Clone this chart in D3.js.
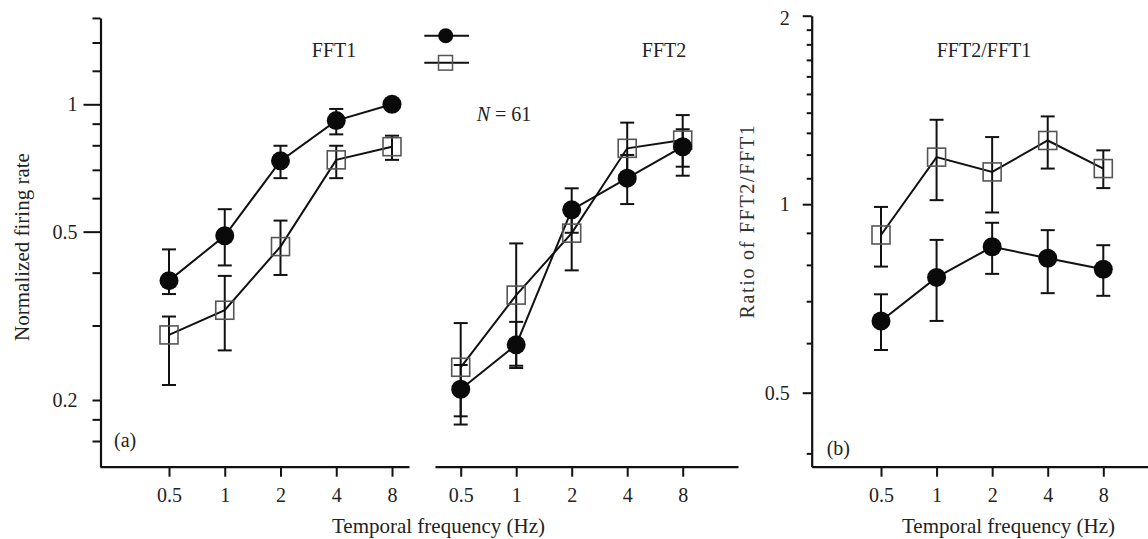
<!DOCTYPE html>
<html>
<head>
<meta charset="utf-8">
<script src="https://cdn.jsdelivr.net/npm/d3@7"></script>
<style>
body { margin: 0; background: #fff; }
svg { display: block; font-family: "Liberation Serif", "Times New Roman", serif; }
</style>
</head>
<body>
<div id="chart"></div>
<script>
// temporal frequencies (Hz)
const freqs = [0.5, 1, 2, 4, 8];
const xTickLabels = ['0.5', '1', '2', '4', '8'];

// (a) FFT1 normalized firing rate
const fft1Circle   = [0.383, 0.489, 0.735, 0.915, 1.0];
const fft1CircleLo = [0.356, 0.416, 0.669, 0.849, 0.98];
const fft1CircleHi = [0.454, 0.565, 0.798, 0.975, 1.02];
const fft1Square   = [0.285, 0.326, 0.461, 0.739, 0.794];
const fft1SquareLo = [0.217, 0.262, 0.395, 0.669, 0.739];
const fft1SquareHi = [0.315, 0.393, 0.531, 0.798, 0.843];

// (a) FFT2 normalized firing rate
const fft2Circle   = [0.212, 0.270, 0.563, 0.669, 0.794];
const fft2CircleLo = [0.183, 0.241, 0.497, 0.581, 0.678];
const fft2CircleHi = [0.242, 0.306, 0.633, 0.759, 0.873];
const fft2Square   = [0.239, 0.354, 0.496, 0.787, 0.823];
const fft2SquareLo = [0.175, 0.238, 0.405, 0.681, 0.712];
const fft2SquareHi = [0.304, 0.469, 0.563, 0.905, 0.943];

// (b) ratio FFT2/FFT1
const ratioCircle   = [0.651, 0.764, 0.855, 0.820, 0.787];
const ratioCircleLo = [0.585, 0.651, 0.774, 0.721, 0.714];
const ratioCircleHi = [0.718, 0.877, 0.934, 0.909, 0.860];
const ratioSquare   = [0.893, 1.189, 1.126, 1.264, 1.140];
const ratioSquareLo = [0.795, 1.015, 0.970, 1.140, 1.061];
const ratioSquareHi = [0.990, 1.364, 1.280, 1.381, 1.219];

// y axis ticks
const yTicksA = [0.16, 0.18, 0.2, 0.3, 0.4, 0.5, 0.6, 0.7, 0.8, 0.9, 1, 1.2, 1.4, 1.6];
const yLabelsA = [0.2, 0.5, 1];
const yMajorA = [0.5, 1];
const yTicksB = [0.4, 0.5, 0.6, 0.7, 0.8, 0.9, 1, 1.1, 1.2, 1.3, 1.4, 1.5, 1.6, 1.7, 1.8, 1.9, 2];
const yLabelsB = [0.5, 1, 2];

const svg = d3.select('#chart').append('svg')
    .attr('width', 1148)
    .attr('height', 539);

svg.append('rect').attr('width', 1148).attr('height', 539).attr('fill', '#fff');

const axisY0 = 466.7;

// x scale: log2, placed by where 0.5 and 8 sit, then stretched to the axis line ends
function makeX(p0, p8, left, right) {
    const s = d3.scaleLog().base(2).domain([0.5, 8]).range([p0, p8]);
    return s.copy().domain([s.invert(left), s.invert(right)]).range([left, right]);
}

const x1 = makeX(169, 392, 100, 409);
const x2 = makeX(460.7, 682.7, 435, 738);
const x3 = makeX(881, 1103.3, 811.7, 1147.5);

const yA0 = d3.scaleLog().domain([0.2, 1]).range([400, 104.3]);
const yA = yA0.copy().domain([yA0.invert(axisY0), 1.6]).range([axisY0, yA0(1.6)]);
const yB0 = d3.scaleLog().domain([0.5, 2]).range([392.7, 15.7]);
const yB = yB0.copy().domain([yB0.invert(axisY0), 2]).range([axisY0, 15.7]);

function styleAxis(g) {
    g.selectAll('path.domain').attr('stroke', '#111').attr('stroke-width', 2.2);
    g.selectAll('.tick line').attr('stroke', '#111').attr('stroke-width', 2);
    g.selectAll('.tick text')
        .attr('fill', '#222')
        .style('font-size', '20px')
        .style('font-family', '"Liberation Serif", "Times New Roman", serif');
}

// x axes
[x1, x2, x3].forEach(x => {
    const g = svg.append('g')
        .attr('transform', `translate(0,${axisY0})`)
        .call(d3.axisBottom(x)
            .tickValues(freqs)
            .tickFormat((d, i) => xTickLabels[i])
            .tickSize(10)
            .tickSizeOuter(0)
            .tickPadding(11));
    styleAxis(g);
});

// y axis (a)
const gyA = svg.append('g')
    .attr('transform', 'translate(100.5,0)')
    .call(d3.axisLeft(yA)
        .tickValues(yTicksA)
        .tickFormat(d => yLabelsA.includes(d) ? d3.format('')(d) : '')
        .tickSize(8)
        .tickSizeOuter(0)
        .tickPadding(15));
styleAxis(gyA);
gyA.selectAll('.tick line').attr('x2', d => yMajorA.includes(d) ? -17 : -8);

// y axis (b)
const gyB = svg.append('g')
    .attr('transform', 'translate(811.7,0)')
    .call(d3.axisLeft(yB)
        .tickValues(yTicksB)
        .tickFormat(d => yLabelsB.includes(d) ? d3.format('')(d) : '')
        .tickSize(5)
        .tickSizeOuter(0)
        .tickPadding(17));
styleAxis(gyB);
gyB.selectAll('.tick line').attr('x2', d => yLabelsB.includes(d) ? -9 : -5);
gyB.selectAll('.tick text').attr('dy', d => d === 2 ? '0.45em' : '0.32em');

// series
function drawSeries(x, y, vals, lo, hi, kind) {
    const g = svg.append('g');
    const line = d3.line()
        .x((d, i) => x(freqs[i]))
        .y(d => y(d));
    g.append('path')
        .datum(vals)
        .attr('d', line)
        .attr('fill', 'none')
        .attr('stroke', '#111')
        .attr('stroke-width', 2);
    return g;
}

function drawBars(g, x, y, lo, hi) {
    freqs.forEach((f, i) => {
        const cx = x(f);
        g.append('line')
            .attr('x1', cx).attr('x2', cx)
            .attr('y1', y(lo[i])).attr('y2', y(hi[i]))
            .attr('stroke', '#111').attr('stroke-width', 2);
        [lo[i], hi[i]].forEach(v => {
            g.append('line')
                .attr('x1', cx - 7).attr('x2', cx + 7)
                .attr('y1', y(v)).attr('y2', y(v))
                .attr('stroke', '#111').attr('stroke-width', 2);
        });
    });
}

function drawSquares(g, x, y, vals) {
    g.selectAll('rect.sq')
        .data(vals)
        .enter()
        .append('rect')
        .attr('class', 'sq')
        .attr('x', (d, i) => x(freqs[i]) - 9)
        .attr('y', d => y(d) - 9)
        .attr('width', 18)
        .attr('height', 18)
        .attr('fill', 'none')
        .attr('stroke', '#555')
        .attr('stroke-width', 1.6);
}

function drawCircles(g, x, y, vals) {
    g.selectAll('circle.dot')
        .data(vals)
        .enter()
        .append('circle')
        .attr('class', 'dot')
        .attr('cx', (d, i) => x(freqs[i]))
        .attr('cy', d => y(d))
        .attr('r', 9.5)
        .attr('fill', '#0a0a0a');
}

const panels = [
    { x: x1, y: yA, c: fft1Circle, cLo: fft1CircleLo, cHi: fft1CircleHi, s: fft1Square, sLo: fft1SquareLo, sHi: fft1SquareHi },
    { x: x2, y: yA, c: fft2Circle, cLo: fft2CircleLo, cHi: fft2CircleHi, s: fft2Square, sLo: fft2SquareLo, sHi: fft2SquareHi },
    { x: x3, y: yB, c: ratioCircle, cLo: ratioCircleLo, cHi: ratioCircleHi, s: ratioSquare, sLo: ratioSquareLo, sHi: ratioSquareHi }
];

panels.forEach(p => {
    const g = drawSeries(p.x, p.y, p.s);
    g.append('path')
        .datum(p.c)
        .attr('d', d3.line().x((d, i) => p.x(freqs[i])).y(d => p.y(d)))
        .attr('fill', 'none')
        .attr('stroke', '#111')
        .attr('stroke-width', 2);
    drawBars(g, p.x, p.y, p.sLo, p.sHi);
    drawBars(g, p.x, p.y, p.cLo, p.cHi);
    drawSquares(g, p.x, p.y, p.s);
    drawCircles(g, p.x, p.y, p.c);
});

// legend
const lg = svg.append('g');
lg.append('line').attr('x1', 424.3).attr('x2', 469).attr('y1', 35.7).attr('y2', 35.7)
    .attr('stroke', '#111').attr('stroke-width', 2);
lg.append('circle').attr('cx', 445.7).attr('cy', 35.7).attr('r', 7.5).attr('fill', '#0a0a0a');
lg.append('line').attr('x1', 424.3).attr('x2', 469).attr('y1', 62.8).attr('y2', 62.8)
    .attr('stroke', '#111').attr('stroke-width', 2);
lg.append('rect').attr('x', 438.5).attr('y', 55.5).attr('width', 14).attr('height', 14.6)
    .attr('fill', 'none').attr('stroke', '#555').attr('stroke-width', 1.5);

// texts
function label(txt, x, y, size, anchor) {
    return svg.append('text')
        .attr('x', x).attr('y', y)
        .attr('text-anchor', anchor || 'middle')
        .attr('fill', '#222')
        .style('font-size', size + 'px')
        .text(txt);
}

label('FFT1', 334, 57, 20);
label('FFT2', 664, 57, 20);
label('FFT2/FFT1', 984, 57, 20);
label('(a)', 114, 447, 20, 'start');
label('(b)', 826.7, 455, 20, 'start');
label('Temporal frequency (Hz)', 438.5, 533, 21);
label('Temporal frequency (Hz)', 1008.5, 533, 21);

const nText = svg.append('text')
    .attr('x', 476.7).attr('y', 121)
    .attr('fill', '#222')
    .style('font-size', '20px');
nText.append('tspan').style('font-style', 'italic').text('N');
nText.append('tspan').text(' = 61');

svg.append('text')
    .attr('transform', 'translate(22,247) rotate(-90)')
    .attr('text-anchor', 'middle')
    .attr('dominant-baseline', 'central')
    .attr('fill', '#222')
    .style('font-size', '21px')
    .text('Normalized firing rate');

svg.append('text')
    .attr('transform', 'translate(747,221) rotate(-90)')
    .attr('text-anchor', 'middle')
    .attr('dominant-baseline', 'central')
    .attr('fill', '#333')
    .style('font-size', '20px')
    .style('letter-spacing', '1.7px')
    .text('Ratio of FFT2/FFT1');
</script>
</body>
</html>
